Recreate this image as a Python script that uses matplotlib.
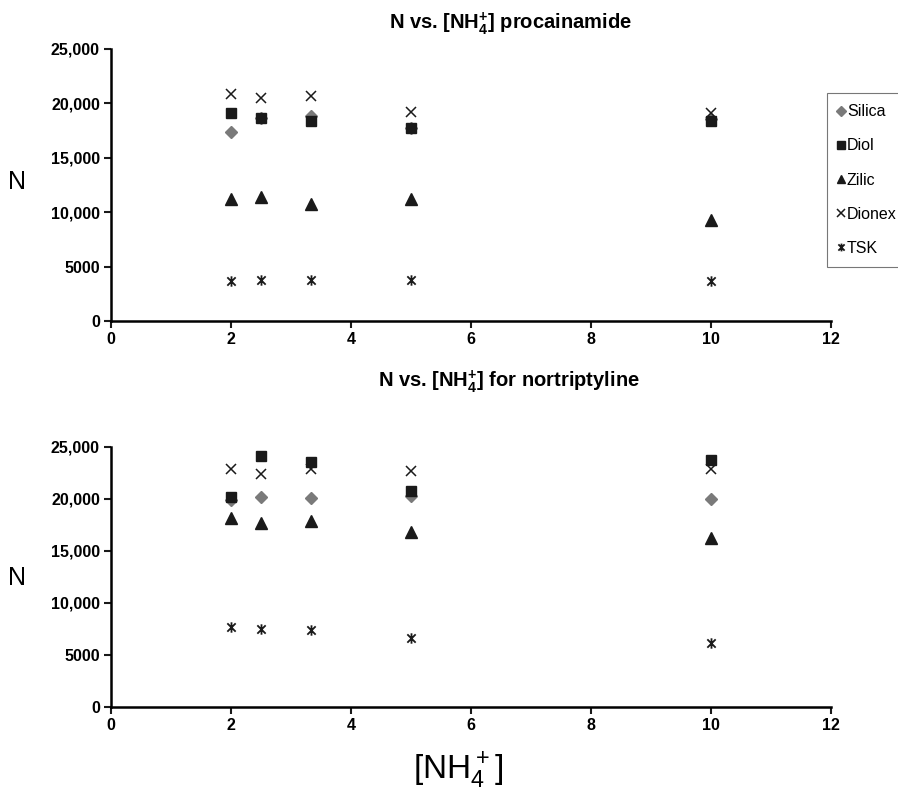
import matplotlib
matplotlib.use('Agg')
import matplotlib.pyplot as plt
from matplotlib.path import Path

plt.rcParams['font.family'] = ['Liberation Sans', 'DejaVu Sans']
plt.rcParams['mathtext.fontset'] = 'custom'
plt.rcParams['mathtext.rm'] = 'Liberation Sans'
plt.rcParams['mathtext.bf'] = 'Liberation Sans:bold'

# [NH4+] 浓度
conc = [2, 2.5, 3.33, 5, 10]

# 上图: procainamide
proc_silica = [17350, 18650, 18850, 17700, 18550]
proc_diol = [19150, 18650, 18400, 17750, 18350]
proc_zilic = [11250, 11400, 10750, 11250, 9300]
proc_dionex = [20900, 20500, 20650, 19250, 19150]
proc_tsk = [3650, 3750, 3800, 3780, 3720]

# 下图: nortriptyline
nort_silica = [19900, 20200, 20100, 20300, 19970]
nort_diol = [20200, 24100, 23500, 20700, 23700]
nort_zilic = [18150, 17650, 17850, 16800, 16200]
nort_dionex = [22900, 22350, 22900, 22650, 22850]
nort_tsk = [7620, 7470, 7340, 6600, 6120]

series_names = ['Silica', 'Diol', 'Zilic', 'Dionex', 'TSK']
yticks = [0, 5000, 10000, 15000, 20000, 25000]
ytick_labels = ['0', '5000', '10,000', '15,000', '20,000', '25,000']
xticks = [0, 2, 4, 6, 8, 10, 12]

# 星号标记: 竖线 + 两条斜线 (Excel 风格)
star = Path([(0, -1), (0, 1), (-0.8, -0.8), (0.8, 0.8), (-0.8, 0.8), (0.8, -0.8)],
            [Path.MOVETO, Path.LINETO, Path.MOVETO, Path.LINETO, Path.MOVETO, Path.LINETO])

styles = [
    dict(marker='D', color='#7a7a7a', markersize=6.3),
    dict(marker='s', color='#1a1a1a', markersize=7.5),
    dict(marker='^', color='#1a1a1a', markersize=8),
    dict(marker='x', color='#1a1a1a', markersize=7, markeredgewidth=1.1),
    dict(marker=star, color='#1a1a1a', markersize=7.5, markeredgewidth=1.3),
]

fig = plt.figure(figsize=(8.98, 7.91), dpi=100)
ax1 = fig.add_axes([0.1236, 0.5942, 0.8018, 0.3439])
ax2 = fig.add_axes([0.1236, 0.1066, 0.8018, 0.3287])

data_top = [proc_silica, proc_diol, proc_zilic, proc_dionex, proc_tsk]
data_bot = [nort_silica, nort_diol, nort_zilic, nort_dionex, nort_tsk]

for ax, data in [(ax1, data_top), (ax2, data_bot)]:
    for name, vals, st in zip(series_names, data, styles):
        ax.plot(conc, vals, linestyle='none', label=name, **st)
    ax.set_xlim(0, 12)
    ax.set_ylim(0, 25000)
    ax.set_xticks(xticks)
    ax.set_xticklabels([str(t) for t in xticks])
    ax.set_yticks(yticks)
    ax.set_yticklabels(ytick_labels)
    for lab in ax.get_xticklabels() + ax.get_yticklabels():
        lab.set_fontweight('bold')
        lab.set_fontsize(11.5)
    ax.spines['top'].set_visible(False)
    ax.spines['right'].set_visible(False)
    ax.spines['left'].set_linewidth(1.8)
    ax.spines['bottom'].set_linewidth(1.8)
    ax.tick_params(direction='out', length=5, width=1.5, pad=3, color='#1a1a1a')

# 标题
fig.text(510 / 898, 1 - 24 / 791, r'N vs. [NH$_\mathbf{4}^\mathbf{+}$] procainamide',
         fontsize=14.5, fontweight='bold', ha='center', va='center')
fig.text(509 / 898, 1 - 382 / 791, r'N vs. [NH$_\mathbf{4}^\mathbf{+}$] for nortriptyline',
         fontsize=14.5, fontweight='bold', ha='center', va='center')

fig.text(17 / 898, 1 - 182 / 791, 'N', fontsize=18, ha='center', va='center')
fig.text(17 / 898, 1 - 578 / 791, 'N', fontsize=18, ha='center', va='center')
fig.text(458 / 898, 1 - 770 / 791, r'[NH$_4^+$]', fontsize=24, ha='center', va='center')

leg = ax1.legend(loc='upper left', bbox_to_anchor=(827 / 898, 1 - 93 / 791),
                 bbox_transform=fig.transFigure, borderaxespad=0,
                 fancybox=False, frameon=True, edgecolor='#555555',
                 handlelength=0.4, handletextpad=0.15, labelspacing=1.2,
                 fontsize=11.5, markerscale=0.75, borderpad=0.7)
leg.get_frame().set_linewidth(0.8)

fig.savefig('out.png', dpi=100)
